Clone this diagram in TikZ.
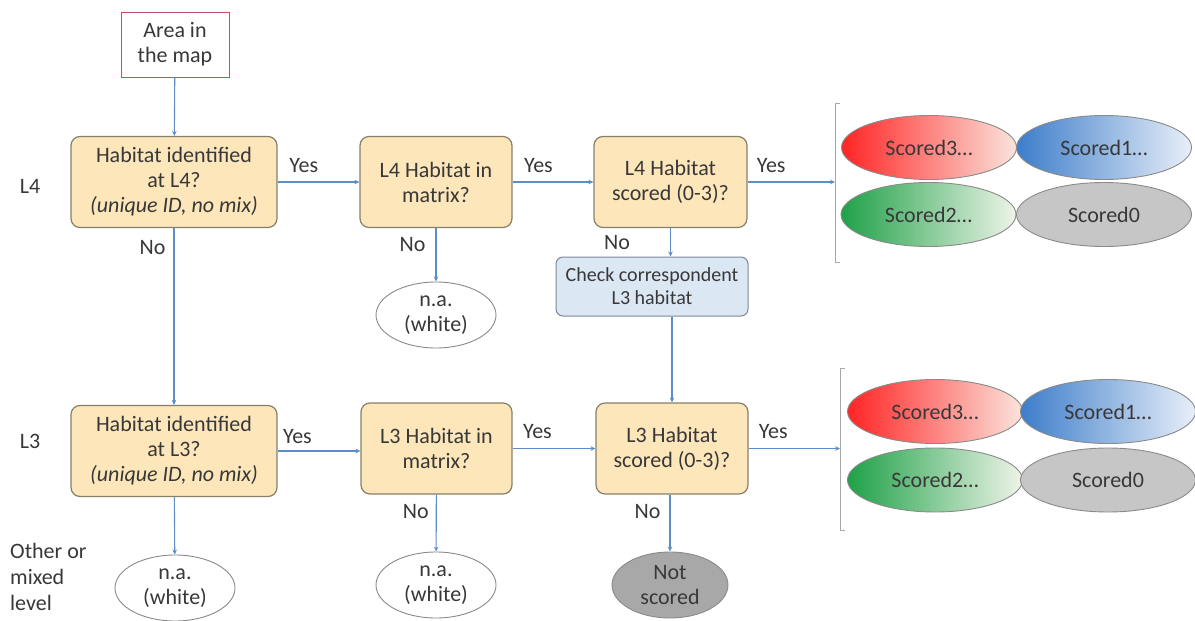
\documentclass[tikz,border=0pt]{standalone}
\usepackage{fontspec}
\setmainfont{Carlito}
\usetikzlibrary{arrows.meta,shapes.geometric}
\definecolor{txt}{HTML}{383838}
\definecolor{boxline}{HTML}{86806A}
\definecolor{boxfill}{HTML}{FCE6BA}
\definecolor{chkfill}{HTML}{DCE7F4}
\definecolor{chkline}{HTML}{7C8898}
\definecolor{arr}{HTML}{5E8CC4}
\definecolor{startline}{HTML}{C4505E}
\definecolor{ovalline}{HTML}{8A8A8A}
\definecolor{brk}{HTML}{A8A8A8}
\definecolor{redA}{HTML}{FF2424}\definecolor{redB}{HTML}{FBE4DC}
\definecolor{bluA}{HTML}{3D7DCA}\definecolor{bluB}{HTML}{E8EFF9}
\definecolor{grnA}{HTML}{1FA148}\definecolor{grnB}{HTML}{EEF4E8}
\definecolor{greyS}{HTML}{C6C6C6}
\definecolor{greyN}{HTML}{A8A8A8}
\tikzset{
  every node/.style={text=txt, font=\fontsize{22}{25}\selectfont},
  decision/.style={draw=boxline, line width=1.2pt, fill=boxfill, rounded corners=9pt,
    minimum width=#1, minimum height=91pt, align=center, inner sep=2pt},
  decision/.default=152pt,
  startbox/.style={draw=startline, line width=1pt, fill=white, minimum width=108pt,
    minimum height=65pt, align=center},
  checkbox/.style={draw=chkline, line width=1pt, fill=chkfill, rounded corners=7pt,
    minimum width=192pt, minimum height=59pt, align=center, inner sep=2pt,
    font=\fontsize{20}{23}\selectfont},
  naoval/.style={ellipse, draw=ovalline, line width=0.9pt, fill=white,
    minimum width=120pt, minimum height=66pt, inner sep=0pt, align=center},
  greyoval/.style={ellipse, draw=ovalline, line width=0.9pt, fill=#1,
    minimum width=175pt, minimum height=64pt, inner sep=0pt},
  shadeoval/.style 2 args={ellipse, draw=ovalline, line width=0.9pt,
    left color=#1, right color=#2,
    minimum width=175pt, minimum height=64pt, inner sep=0pt},
  flow/.style={draw=arr, line width=1.1pt, -{Stealth[length=5pt,width=4.5pt]}},
  lbl/.style={font=\fontsize{22}{25}\selectfont, inner sep=0pt},
  bracket/.style={draw=brk, line width=0.9pt},
}
\begin{document}
\begin{tikzpicture}[x=1pt,y=-1pt]
\useasboundingbox (0,0) rectangle (1195,621);

% start
\node[startbox] (area) at (175,44.5) {Area in\\the map};

% L4 row
\node[decision=206pt] (h4) at (174,182) {Habitat identified\\at L4?\\\textit{(unique ID, no mix)}};
\node[decision] (m4) at (436,182) {L4 Habitat in\\matrix?};
\node[decision=153pt] (s4) at (670.5,182) {L4 Habitat\\scored (0-3)?};
\node[naoval] (na4) at (436,315) {n.a.\\(white)};
\node[checkbox] (chk) at (652,286.5) {Check correspondent\\L3 habitat};

% L3 row
\node[decision=206pt] (h3) at (174,451) {Habitat identified\\at L3?\\\textit{(unique ID, no mix)}};
\node[decision=151pt] (m3) at (436.5,448.5) {L3 Habitat in\\matrix?};
\node[decision] (s3) at (672,448.5) {L3 Habitat\\scored (0-3)?};
\node[naoval] (naother) at (175,588) {n.a.\\(white)};
\node[naoval] (na3) at (436,585) {n.a.\\(white)};
\node[naoval, fill=greyN, minimum width=116pt] (nots) at (670,585) {Not\\scored};

% row labels
\node[lbl] (l4) at (30,186) {L4};
\node[lbl] (l3) at (30,441) {L3};
\node[lbl, align=left, anchor=north west, font=\fontsize{22}{26}\selectfont] (oth) at (10,543) {Other or\\mixed\\level};

% score groups (L4)
\node[shadeoval={redA}{redB}] (a3) at (929,147.5) {Scored3…};
\node[shadeoval={bluA}{bluB}] (a1) at (1104,147.5) {Scored1…};
\node[shadeoval={grnA}{grnB}] (a2) at (928.5,214.5) {Scored2…};
\node[greyoval=greyS] (a0) at (1104,214.5) {Scored0};

% score groups (L3)
\node[shadeoval={redA}{redB}] (b3) at (935,411.5) {Scored3…};
\node[shadeoval={bluA}{bluB}] (b1) at (1108,411.5) {Scored1…};
\node[shadeoval={grnA}{grnB}] (b2) at (935,480) {Scored2…};
\node[greyoval=greyS] (b0) at (1108,480) {Scored0};

% brackets gathering the score groups
\coordinate (t4) at (835,103);
\coordinate (u4) at (835,262);
\coordinate (t3) at (840,368);
\coordinate (u3) at (840,530);
\draw[bracket] ([xshift=5pt]t4) -- (t4) -- (u4) -- ([xshift=5pt]u4);
\draw[bracket] ([xshift=5pt]t3) -- (t3) -- (u3) -- ([xshift=5pt]u3);
\coordinate (in4) at (835,182);
\coordinate (in3) at (840,448.5);

% connectors
\draw[flow] (area) -- (h4);
\draw[flow] (h4) -- node[lbl, above, pos=0.32, yshift=9pt] {Yes} (m4);
\draw[flow] (m4) -- node[lbl, above, pos=0.32, yshift=9pt] {Yes} (s4);
\draw[flow] (s4) -- node[lbl, above, pos=0.27, yshift=9pt] {Yes} (in4);
\draw[flow] (m4) -- node[lbl, left, pos=0.3, xshift=-10pt] {No} (na4);
\draw[flow] (s4.south) -- node[lbl, left, pos=0.5, xshift=-40pt] {No} (s4.south |- chk.north);
\draw[flow] (chk.south -| s3.north) -- (s3.north);
\draw[flow] (h4) -- node[lbl, left, pos=0.11, xshift=-8pt] {No} (h3);
\draw[flow] (h3.east) -- node[lbl, above, pos=0.24, yshift=7pt] {Yes} (m3.west |- h3.east);
\draw[flow] (m3) -- node[lbl, above, pos=0.3, yshift=9pt] {Yes} (s3);
\draw[flow] (s3) -- node[lbl, above, pos=0.27, yshift=9pt] {Yes} (in3);
\draw[flow] (h3) -- (naother);
\draw[flow] (m3) -- node[lbl, left, pos=0.3, xshift=-7pt] {No} (na3);
\draw[flow] (s3.south -| nots.north) -- node[lbl, left, pos=0.3, xshift=-9pt] {No} (nots);
\end{tikzpicture}
\end{document}
